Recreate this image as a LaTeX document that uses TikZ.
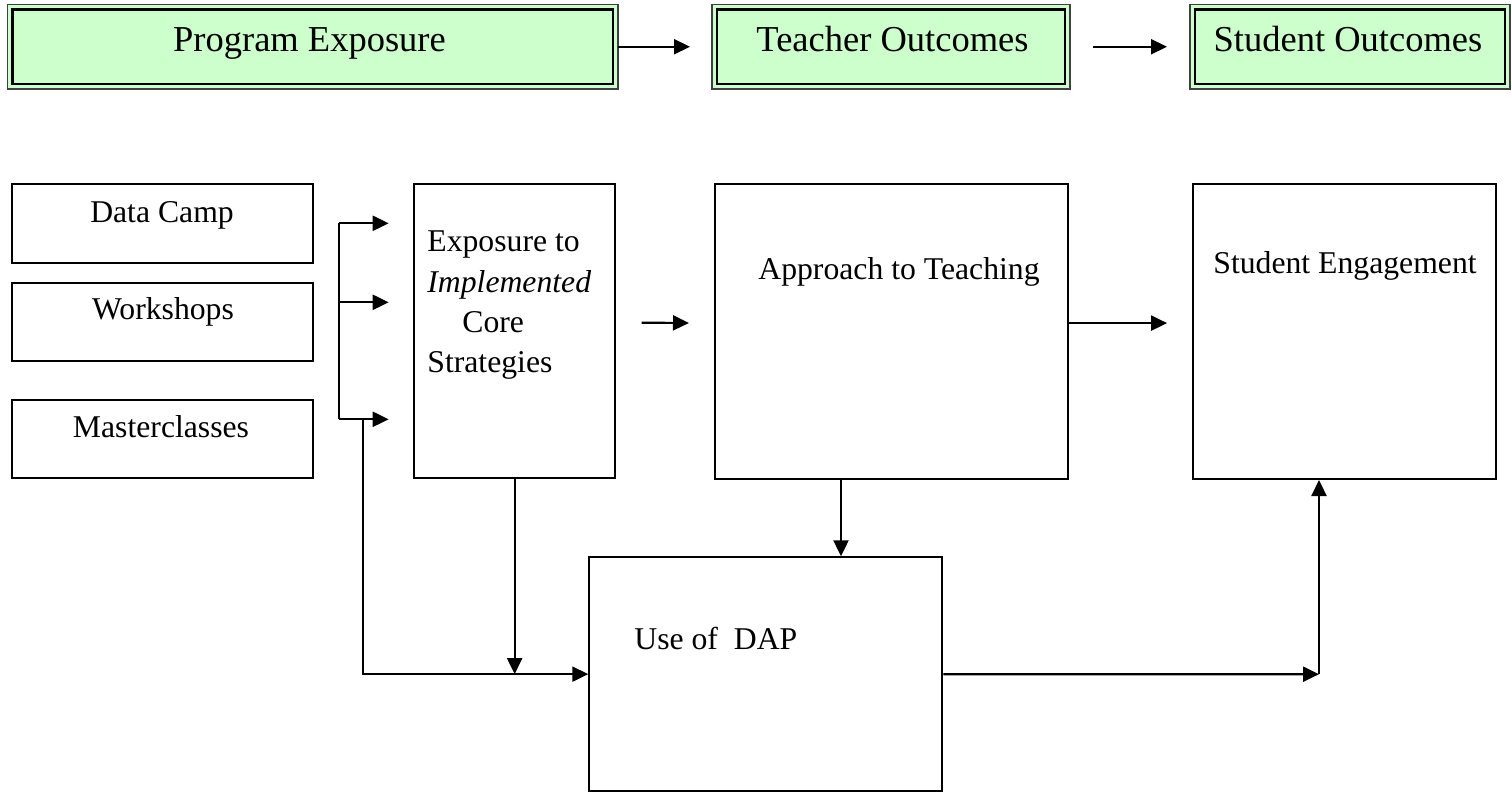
\documentclass[tikz,border=0pt]{standalone}
\usepackage{fontspec}
\setmainfont{Liberation Serif}
\usetikzlibrary{arrows.meta,fit}
\definecolor{hdrgreen}{HTML}{CCFFCC}
\begin{document}
\begin{tikzpicture}[x=0.5pt,y=-0.5pt,
  box/.style={draw=black, line width=1pt, rectangle, inner sep=0pt},
  hbox/.style={draw=black!75, line width=0.6pt, fill=hdrgreen, rectangle, inner sep=0pt, outer sep=0pt},
  htxt/.style={font=\fontsize{18.25}{22}\selectfont, inner sep=0pt, anchor=base},
  txt/.style={font=\fontsize{15.85}{20.2}\selectfont, inner sep=0pt, anchor=base},
  arr/.style={line width=1.1pt, -{Triangle[length=8pt,width=7.5pt]}}]
\useasboundingbox (0,0) rectangle (1512,792);

% header row
\node[hbox, fit={(7.5,4.5) (618,89)}] (prog) {};
\node[hbox, fit={(712,4.5) (1070,89)}] (teach) {};
\node[hbox, fit={(1190,4.5) (1510,89)}] (stud) {};
\foreach \n in {prog,teach,stud}
  \draw[line width=1.3pt] ([shift={(5,-5)}]\n.south west) rectangle ([shift={(-5,5)}]\n.north east);
\node[htxt] (progTxt) at (309.5,52) {Program Exposure};
\node[htxt] (teachTxt) at (892.5,52) {Teacher Outcomes};
\node[htxt] (studTxt) at (1348,52) {Student Outcomes};
\draw[arr, shorten >=11pt] (prog.east) -- (teach.west);
\draw[arr, shorten <=11.5pt, shorten >=11.5pt] (teach.east) -- (stud.west);

% program parts
\node[box, fit={(11.5,184) (313,262.7)}] (camp) {};
\node[box, fit={(11.5,282.7) (313,361)}] (work) {};
\node[box, fit={(11.5,400) (313,478.3)}] (mast) {};
\node[txt] (campTxt) at (162,223) {Data Camp};
\node[txt] (workTxt) at (163,320) {Workshops};
\node[txt] (mastTxt) at (161,437) {Masterclasses};

% outcome boxes
\node[box, fit={(414.3,184) (615,478)}] (expo) {};
\node[box, fit={(715,184) (1068,479)}] (appr) {};
\node[box, fit={(1192.7,184) (1495.7,479)}] (eng) {};
\node[box, fit={(589.3,557.3) (942.3,791)}] (dap) {};
\node[txt, anchor=north west, align=left] (expoTxt) at (427,230.5)
  {Exposure to\\ \textit{Implemented}\\ \hspace*{17.5pt}Core\\ Strategies};
\node[txt, anchor=base west] (apprTxt) at (758,279.3) {Approach to Teaching};
\node[txt, anchor=base west] (engTxt) at (1213,273) {Student Engagement};
\node[txt, anchor=base west] (dapTxt) at (634,649.3) {Use of \ DAP};

% bracket into exposure
\coordinate (bTop) at (339,223.3);
\coordinate (bMid) at (339,302.3);
\coordinate (bBot) at (339,419.3);
\coordinate (mDown) at (363.3,419.3);
\draw[line width=1.1pt] (bTop) -- (bBot);
\foreach \c in {bTop,bMid,bBot}
  \draw[arr, shorten >=12.3pt] (\c) -- (\c -| expo.west);

% flows
\draw[arr] (mDown) |- (dap.west);
\draw[arr] (expo.south) -- (expo.south |- dap.west);
\draw[arr, shorten <=12.8pt, shorten >=12.5pt] ([yshift=4.2pt]expo.east) -- ([yshift=4.2pt]appr.west);
\draw[arr, shorten >=12.3pt] ([yshift=4.2pt]appr.east) -- ([yshift=4.2pt]eng.west);
\draw[arr] ([xshift=-25.25pt]appr.south) -- ([xshift=-25.25pt]appr.south |- dap.north);
\coordinate (corner) at (1319,674.2);
\draw[arr] (dap.east) -- (corner);
\draw[arr] (corner) -- (corner |- eng.south);
\end{tikzpicture}
\end{document}
